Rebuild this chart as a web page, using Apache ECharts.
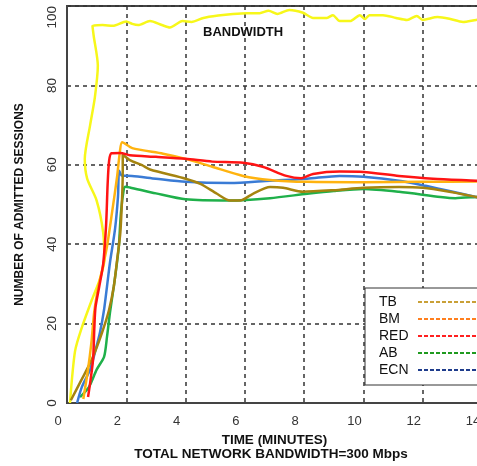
<!DOCTYPE html>
<html>
<head>
    <meta charset="utf-8">
    <title>Admitted sessions</title>
    <script src="https://cdn.jsdelivr.net/npm/echarts@6.0.0/dist/echarts.min.js"></script>
    <style>
        body { margin: 0; background: #fff; }
        #chart { width: 477px; height: 466px; }
    </style>
</head>
<body>
    <div id="chart"></div>
    <script>
        // [minutes, sessions]
        const bandwidth = [[0.1,0],[0.27,13],[0.5,19],[0.84,26],[1.1,31],[1.26,36],[1.22,43],[1.0,51],[0.68,56.5],[0.6,61.5],[0.78,70],[0.94,77],[1.04,85],[0.9,92.5],[0.86,95],[1.2,95.2],[1.55,95],[2.0,96.1],[2.2,95.5],[2.4,95.2],[2.8,96.2],[3.2,95.2],[3.47,94.6],[3.9,96.2],[4.2,96],[4.6,97],[5.1,97.6],[5.6,98],[6.07,98.2],[6.5,98.2],[6.8,98.8],[7.1,98],[7.5,99],[7.96,98.3],[8.3,97],[8.77,97],[8.97,97.7],[9.2,96.2],[9.55,96.2],[9.88,97.7],[10.05,96.7],[10.2,97.7],[10.66,97.7],[11.1,97],[11.47,96.5],[11.8,97.5],[12.0,96.5],[12.5,97.2],[12.9,96.8],[13.36,96],[13.8,96.5],[14,96.6]];
        const red = [[0.71,1.5],[0.78,5],[0.88,11],[0.92,18.5],[0.96,24],[1.08,29],[1.22,35],[1.32,45],[1.37,55],[1.42,61],[1.5,62.9],[1.8,63],[2.12,62.4],[3,62],[4,61.5],[4.9,60.8],[5.94,60.5],[6.6,59.5],[7.4,57.2],[7.9,56.6],[8.3,57.7],[9.2,58.3],[10,58.2],[11.2,57.2],[12.35,56.5],[13.8,56],[14,55.9]];
        const bm = [[0.55,1],[0.7,8],[0.82,15],[0.92,23],[1.05,29],[1.2,34],[1.35,39.5],[1.52,48],[1.69,57],[1.78,63],[1.86,65.7],[2.2,64.2],[3.24,62.8],[4,61.5],[4.9,59.5],[5.94,57.2],[6.85,56.2],[8.1,55.7],[10,55.6],[12,55.7],[14,55.8]];
        const tb = [[0.13,0.7],[0.5,6],[0.84,11],[1.18,17.7],[1.42,23.5],[1.58,29.4],[1.69,36],[1.8,43],[1.86,52],[1.88,58],[1.88,62.6],[2.12,61.2],[2.53,59.9],[2.8,58.8],[4,56.5],[4.5,55.2],[5.06,52.7],[5.5,51],[5.84,51],[6.27,52.7],[6.85,54.4],[7.29,54.2],[7.96,53.2],[9,53.6],[10,54.2],[11.2,54.4],[12,54.2],[12.9,53.2],[13.8,51.9],[14,51.6]];
        const ecn = [[0.34,0],[0.5,4],[0.78,8.4],[0.94,12.7],[1.11,17.7],[1.25,23.5],[1.35,29.4],[1.45,35.4],[1.62,43.8],[1.72,52],[1.76,58.5],[1.85,57.3],[2.19,57.2],[3,56.5],[4,55.7],[5.5,55.4],[6.85,56],[8.1,56.5],[9.2,57.2],[10,57],[11.2,56],[12.1,54.7],[12.9,53.4],[13.8,51.9],[14,51.5]];
        const ab = [[0.44,1.5],[0.74,4],[1.0,8.4],[1.25,11.6],[1.35,16.7],[1.45,22.8],[1.58,29.4],[1.68,35],[1.75,39.5],[1.82,48],[1.92,54],[1.97,54.5],[2.12,54.3],[3,52.8],[4,51.3],[5.5,51],[6.85,51.6],[8.1,52.7],[9,53.4],[10,53.9],[11.2,53.2],[12.6,51.9],[13.1,51.6],[13.8,51.9],[14,52]];

        const legendNames = ['TB', 'BM', 'RED', 'AB', 'ECN'];
        const legendColors = ['#c9a037', '#ff7f1e', '#ff2020', '#1f9a1f', '#1e3c8c'];

        const chart = echarts.init(document.getElementById('chart'));

        function line(name, data, color) {
            return {
                name: name,
                type: 'line',
                data: data,
                symbol: 'none',
                smooth: 0.25,
                lineStyle: { color: color, width: 2.5 },
                itemStyle: { color: color }
            };
        }

        chart.setOption({
            animation: false,
            backgroundColor: '#fff',
            textStyle: { fontFamily: 'Liberation Sans, Arial, sans-serif' },
            grid: {
                left: 67, top: 6, width: 415, bottom: 63,
                outerBoundsMode: 'none',
                containLabel: false,
                show: true, borderColor: '#444', borderWidth: 2
            },
            xAxis: {
                type: 'value', min: 0, max: 14, interval: 2,
                name: 'TIME (MINUTES)',
                nameLocation: 'middle',
                nameGap: 28,
                nameTextStyle: { color: '#111', fontSize: 13.5, fontWeight: 'bold' },
                axisLine: { lineStyle: { color: '#444', width: 2 } },
                axisTick: { show: false },
                axisLabel: { color: '#333', fontSize: 13, margin: 12, padding: [0, 18, 0, 0] },
                splitLine: { lineStyle: { color: '#333', type: [4, 4], width: 1.5 } }
            },
            yAxis: {
                type: 'value', min: 0, max: 100, interval: 20,
                name: 'NUMBER OF ADMITTED SESSIONS',
                nameLocation: 'middle',
                nameGap: 41,
                nameTextStyle: { color: '#111', fontSize: 12, fontWeight: 'bold' },
                axisLine: { lineStyle: { color: '#444', width: 2 } },
                axisTick: { show: false },
                axisLabel: { color: '#333', fontSize: 13.5, rotate: 90, margin: 8,
                    alignMaxLabel: 'right' },
                splitLine: { lineStyle: { color: '#333', type: [4, 4], width: 1.5 } }
            },
            legend: {
                orient: 'vertical',
                left: 365, top: 288,
                align: 'right',
                itemGap: 3,
                itemWidth: 66,
                itemHeight: 14,
                padding: [7, 10, 8, 14],
                backgroundColor: '#fff',
                borderColor: '#333',
                borderWidth: 1,
                borderRadius: 0,
                itemStyle: { opacity: 0 },
                formatter: '{t|{name}}',
                textStyle: {
                    color: '#111', fontSize: 14,
                    rich: { t: { width: 34, align: 'left', fontSize: 14, color: '#111' } }
                },
                data: legendNames.map((n, i) => ({
                    name: n,
                    lineStyle: { color: legendColors[i], type: [4, 2], width: 2 }
                }))
            },
            graphic: [
                {
                    type: 'text', x: 271, y: 447,
                    style: { text: 'TOTAL NETWORK BANDWIDTH=300 Mbps', fill: '#111',
                        textAlign: 'center',
                        font: 'bold 13.5px Liberation Sans, Arial, sans-serif' }
                },
                {
                    type: 'text', x: 203, y: 26,
                    style: { text: 'BANDWIDTH', fill: '#111',
                        font: 'bold 13px Liberation Sans, Arial, sans-serif' }
                }
            ],
            series: [
                line('BANDWIDTH', bandwidth, '#f7f71a'),
                line('AB', ab, '#1fb04a'),
                line('ECN', ecn, '#3a7bd5'),
                line('TB', tb, '#a5840f'),
                line('BM', bm, '#ffb30f'),
                line('RED', red, '#ff1414')
            ]
        });
    </script>
</body>
</html>
